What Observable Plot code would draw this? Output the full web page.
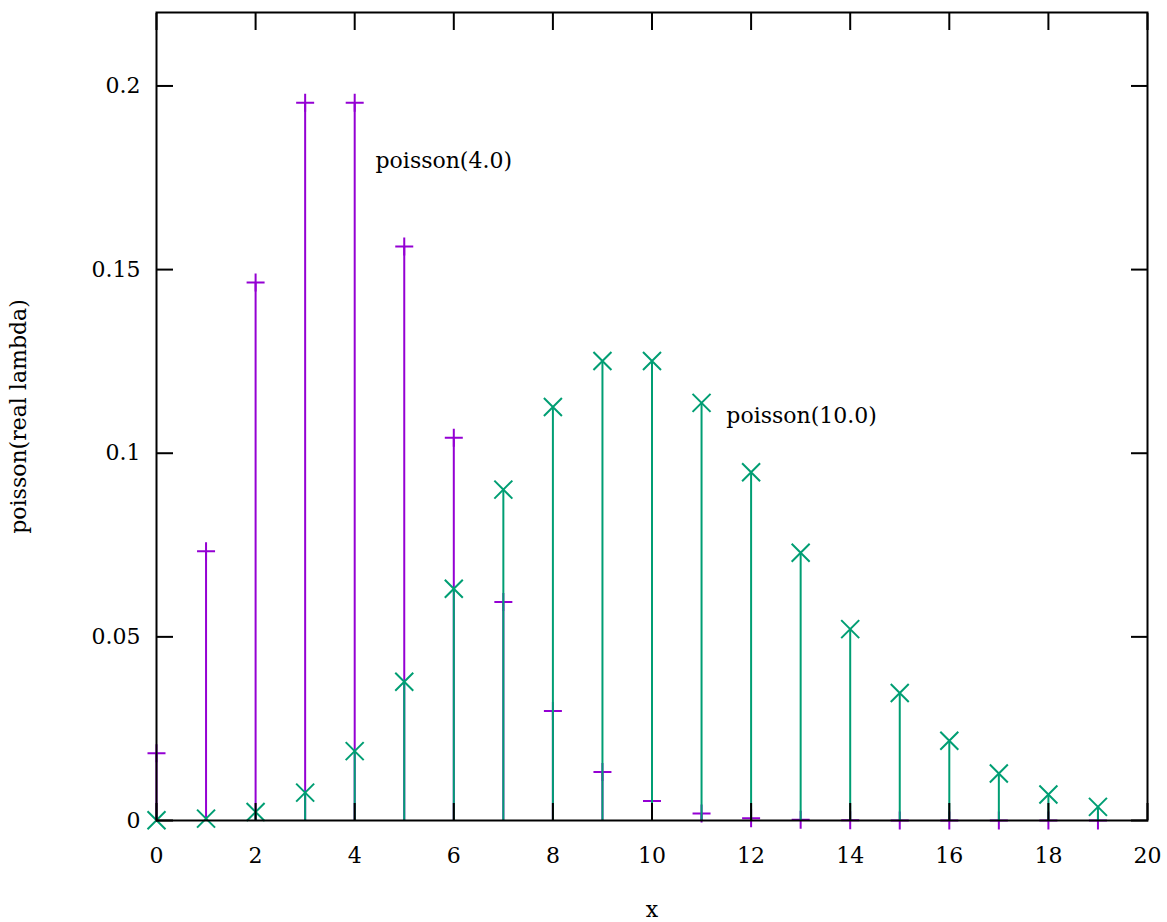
<!DOCTYPE html>
<html>
<head>
<meta charset="utf-8">
<script src="https://cdn.jsdelivr.net/npm/d3@7"></script>
<script src="https://cdn.jsdelivr.net/npm/@observablehq/plot@0.6"></script>
<style>
  html, body { margin: 0; padding: 0; background: #fff; }
</style>
</head>
<body>
<div id="chart"></div>
<script>
const xs = [0, 1, 2, 3, 4, 5, 6, 7, 8, 9, 10, 11, 12, 13, 14, 15, 16, 17, 18, 19];
const poisson4 = [0.0183, 0.0733, 0.1465, 0.1954, 0.1954, 0.1563, 0.1042, 0.0595, 0.0298, 0.0132,
                  0.0053, 0.0019, 0.0006, 0.0002, 0.00006, 0.00002, 0.000004, 0.000001, 0.0000002, 0.00000004];
const poisson10 = [0.00005, 0.0005, 0.0023, 0.0076, 0.0189, 0.0378, 0.0631, 0.0901, 0.1126, 0.1251,
                   0.1251, 0.1137, 0.0948, 0.0729, 0.0521, 0.0347, 0.0217, 0.0128, 0.0071, 0.0037];
const xTicks = [0, 2, 4, 6, 8, 10, 12, 14, 16, 18, 20];
const xTickLabels = ["0", "2", "4", "6", "8", "10", "12", "14", "16", "18", "20"];
const yTicks = [0, 0.05, 0.1, 0.15, 0.2];
const yTickLabels = ["0", "0.05", "0.1", "0.15", "0.2"];
const labelTexts = ["poisson(4.0)", "poisson(10.0)"];
const labelX = [4.42, 11.5];
const labelY = [0.1796, 0.1102];
const xLabel = "x";
const yLabel = "poisson(real lambda)";

const data4 = xs.map((x, i) => ({x, y: poisson4[i]}));
const data10 = xs.map((x, i) => ({x, y: poisson10[i]}));
const labels = labelTexts.map((t, i) => ({t, x: labelX[i], y: labelY[i]}));

const purple = "#9400d3";
const green = "#009e73";
const FS = 22;
const M = 9;
const plusSym = {draw(ctx) { ctx.moveTo(-M, 0); ctx.lineTo(M, 0); ctx.moveTo(0, -M); ctx.lineTo(0, M); }};
const timesSym = {draw(ctx) { ctx.moveTo(-M, -M); ctx.lineTo(M, M); ctx.moveTo(-M, M); ctx.lineTo(M, -M); }};

const chart = Plot.plot({
  width: 1167,
  height: 922,
  marginLeft: 156,
  marginRight: 20,
  marginTop: 12,
  marginBottom: 102,
  style: {fontFamily: "'DejaVu Serif', serif", fontSize: FS + "px", color: "#000", background: "#fff"},
  x: {domain: [0, 20]},
  y: {domain: [0, 0.22]},
  marks: [
    // impulses and points: poisson(4)
    Plot.ruleX(data4, {x: "x", y: "y", stroke: purple, strokeWidth: 2}),
    Plot.dot(data4, {x: "x", y: "y", symbol: plusSym, r: 5, fill: "none", stroke: purple, strokeWidth: 2}),
    // impulses and points: poisson(10)
    Plot.ruleX(data10, {x: "x", y: "y", stroke: green, strokeWidth: 2}),
    Plot.dot(data10, {x: "x", y: "y", symbol: timesSym, r: 5, fill: "none", stroke: green, strokeWidth: 2}),
    // labels
    Plot.text(labels, {x: "x", y: "y", text: "t", textAnchor: "start", fill: "#000", fontSize: FS}),
    // frame
    Plot.frame({stroke: "#000", strokeWidth: 2}),
    // axes: labels
    Plot.axisX({ticks: xTicks, tickFormat: (d, i) => xTickLabels[i], tickSize: 0, tickPadding: 27,
                label: xLabel, labelAnchor: "center", labelArrow: "none", labelOffset: 96, fontSize: FS}),
    Plot.axisY({ticks: yTicks, tickFormat: (d, i) => yTickLabels[i], tickSize: 0, tickPadding: 16,
                label: yLabel, labelAnchor: "center", labelArrow: "none", labelOffset: 146, fontSize: FS}),
    // inward ticks on all four sides
    Plot.axisX({ticks: xTicks, anchor: "bottom", tickSize: -17, tickFormat: () => "", label: null, strokeWidth: 2}),
    Plot.axisX({ticks: xTicks, anchor: "top", tickSize: -17, tickFormat: () => "", label: null, strokeWidth: 2}),
    Plot.axisY({ticks: yTicks, anchor: "left", tickSize: -17, tickFormat: () => "", label: null, strokeWidth: 2}),
    Plot.axisY({ticks: yTicks, anchor: "right", tickSize: -17, tickFormat: () => "", label: null, strokeWidth: 2})
  ]
});
document.getElementById("chart").appendChild(chart);
</script>
</body>
</html>
